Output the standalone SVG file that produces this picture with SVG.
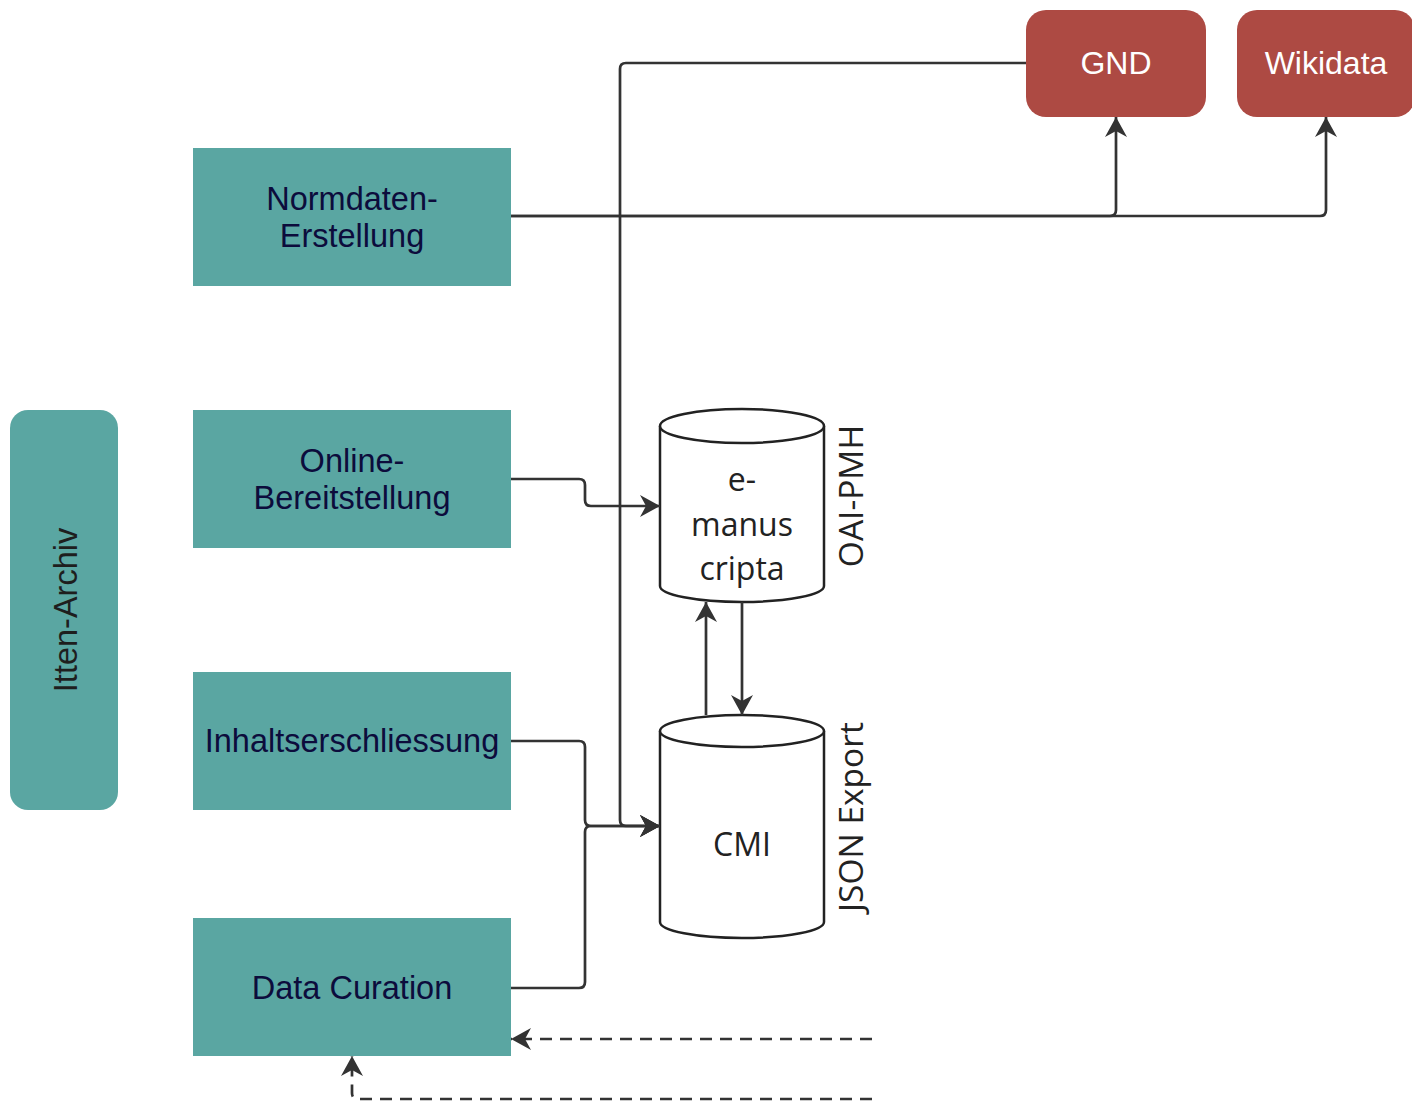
<svg xmlns="http://www.w3.org/2000/svg" width="1412" height="1104" viewBox="0 0 1412 1104">
<style>
.proc{fill:#5aa6a2}
.ext{fill:#ad4a43}
.cyl{fill:#ffffff;stroke:#222;stroke-width:2.5}
.t{font-family:"Liberation Sans",Arial,sans-serif;font-size:32.5px;fill:#0c0c3c;text-anchor:middle}
.tw{font-family:"Liberation Sans",Arial,sans-serif;font-size:32px;fill:#ffffff;text-anchor:middle}
.tk{font-family:"Liberation Sans",Arial,sans-serif;font-size:32.5px;fill:#1e1e1e;text-anchor:middle}
.to{font-family:"Open Sans",sans-serif;font-size:32px;fill:#222;text-anchor:middle}
.tr{font-family:"Open Sans",sans-serif;font-size:33.5px;fill:#222;text-anchor:middle}
.e{fill:none;stroke:#333;stroke-width:2.7}
.d{fill:none;stroke:#333;stroke-width:2.7;stroke-dasharray:12 8}
</style>
<defs>
<marker id="arr" markerUnits="userSpaceOnUse" markerWidth="22" markerHeight="22" refX="20" refY="11" orient="auto">
<path d="M0,0 L20,11 L0,22 L6,11 z" fill="#333"/>
</marker>
</defs>
<g id="itten-archiv">
<rect x="10" y="410" width="108" height="400" rx="18" class="proc"/>
<text class="tk" transform="translate(77,610) rotate(-90)">Itten-Archiv</text>
</g>
<g id="normdaten">
<rect x="193" y="148" width="318" height="138" class="proc"/>
<text class="t" x="352" y="210">Normdaten-</text>
<text class="t" x="352" y="247">Erstellung</text>
</g>
<g id="online">
<rect x="193" y="410" width="318" height="138" class="proc"/>
<text class="t" x="352" y="472">Online-</text>
<text class="t" x="352" y="509">Bereitstellung</text>
</g>
<g id="inhalt">
<rect x="193" y="672" width="318" height="138" class="proc"/>
<text class="t" x="352" y="752">Inhaltserschliessung</text>
</g>
<g id="curation">
<rect x="193" y="918" width="318" height="138" class="proc"/>
<text class="t" x="352" y="999">Data Curation</text>
</g>
<g id="gnd">
<rect x="1026" y="10" width="180" height="107" rx="20" class="ext"/>
<text class="tw" x="1116" y="74">GND</text>
</g>
<g id="wikidata">
<rect x="1237" y="10" width="178" height="107" rx="20" class="ext"/>
<text class="tw" x="1326" y="74">Wikidata</text>
</g>
<g id="emanuscripta">
<path class="cyl" d="M660,426 A82,17 0 0 1 824,426 V586 A82,16 0 0 1 660,586 Z"/>
<path class="cyl" d="M660,426 A82,17 0 0 0 824,426" fill="none"/>
<text class="to" x="742" y="491">e-</text>
<text class="to" x="742" y="536">manus</text>
<text class="to" x="742" y="580">cripta</text>
<text class="tr" transform="translate(863,496) rotate(-90)">OAI-PMH</text>
</g>
<g id="cmi">
<path class="cyl" d="M660,731 A82,16 0 0 1 824,731 V922 A82,16 0 0 1 660,922 Z"/>
<path class="cyl" d="M660,731 A82,16 0 0 0 824,731" fill="none"/>
<text class="to" x="742" y="856">CMI</text>
<text class="tr" transform="translate(863,817) rotate(-90)">JSON Export</text>
</g>
<g id="connectors">
<path class="e" marker-end="url(#arr)" d="M1026,63 H626 Q620,63 620,69 V820 Q620,826 626,826 H660"/>
<path class="e" marker-end="url(#arr)" d="M511,216 H1110 Q1116,216 1116,210 V117"/>
<path class="e" marker-end="url(#arr)" d="M511,216 H1320 Q1326,216 1326,210 V117"/>
<path class="e" marker-end="url(#arr)" d="M511,479 H579 Q585,479 585,485 V500 Q585,506 591,506 H660"/>
<path class="e" marker-end="url(#arr)" d="M511,741 H579 Q585,741 585,747 V820 Q585,826 591,826 H660"/>
<path class="e" marker-end="url(#arr)" d="M511,988 H579 Q585,988 585,982 V832 Q585,826 591,826 H660"/>
<path class="e" marker-end="url(#arr)" d="M742,602 V715"/>
<path class="e" marker-end="url(#arr)" d="M706,715 V602"/>
<path class="d" marker-end="url(#arr)" d="M872,1039 H511"/>
<path class="d" marker-end="url(#arr)" d="M872,1099 H358 Q352,1099 352,1093 V1056"/>
</g>
</svg>
